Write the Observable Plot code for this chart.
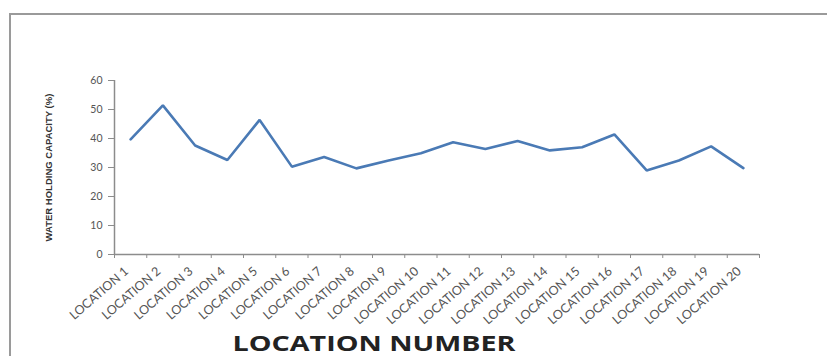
<!DOCTYPE html>
<html>
<head>
<meta charset="utf-8">
<script src="https://cdn.jsdelivr.net/npm/d3@7"></script>
<script src="https://cdn.jsdelivr.net/npm/@observablehq/plot@0.6"></script>
<style>
  html, body { margin: 0; padding: 0; background: #fff; }
  #wrap { position: relative; width: 827px; height: 356px; overflow: hidden; }
  #border { position: absolute; left: 9px; top: 13px; width: 900px; height: 400px; border-left: 2px solid #9a9a9a; border-top: 2px solid #9a9a9a; pointer-events: none; }
  svg { font-family: Lato, "Open Sans", sans-serif; }
</style>
</head>
<body>
<div id="wrap"><div id="border"></div><div id="chart"></div></div>
<script>
const locations = ["LOCATION 1","LOCATION 2","LOCATION 3","LOCATION 4","LOCATION 5","LOCATION 6","LOCATION 7","LOCATION 8","LOCATION 9","LOCATION 10","LOCATION 11","LOCATION 12","LOCATION 13","LOCATION 14","LOCATION 15","LOCATION 16","LOCATION 17","LOCATION 18","LOCATION 19","LOCATION 20"];
const capacity = [39.7, 51.4, 37.6, 32.6, 46.4, 30.3, 33.6, 29.7, 32.4, 34.9, 38.7, 36.4, 39.1, 35.9, 37.0, 41.4, 29.0, 32.4, 37.3, 29.8];
const yTicks = [0, 10, 20, 30, 40, 50, 60];
const yTitle = "WATER HOLDING CAPACITY (%)";
const xTitle = "LOCATION NUMBER";

const data = locations.map((name, i) => ({name, i, value: capacity[i]}));
const axisColor = "#8c8c8c";
const labelColor = "#555";

const chart = Plot.plot({
  width: 827,
  height: 356,
  marginLeft: 114,
  marginRight: 68,
  marginTop: 80,
  marginBottom: 102,
  x: {type: "linear", domain: [0, locations.length], axis: null},
  y: {domain: [0, 60], axis: null},
  marks: [
    Plot.ruleX([0], {stroke: axisColor, strokeWidth: 1.5}),
    Plot.ruleY([0], {stroke: axisColor, strokeWidth: 1.5}),
    Plot.axisY({ticks: yTicks, tickSize: 6, stroke: axisColor, tickPadding: 6, fill: labelColor, fontSize: 10.5, label: null}),
    Plot.axisX({ticks: d3.range(locations.length + 1), tickSize: 4, tickFormat: () => "", stroke: axisColor, label: null}),
    Plot.text(data, {x: d => d.i + 0.5, y: 0, text: "name", rotate: -41, textAnchor: "end", dx: -4, dy: 15, fontSize: 12.5, fill: labelColor}),
    Plot.lineY(data, {x: d => d.i + 0.5, y: "value", stroke: "#4a7ab5", strokeWidth: 2.6, strokeLinejoin: "miter"}),
    Plot.text([yTitle], {frameAnchor: "left", textAnchor: "middle", rotate: -90, dx: -66, fontSize: 9.5, fontWeight: "bold", fill: "#333", fontFamily: "'Liberation Sans Narrow', 'Liberation Sans', sans-serif"}),
    Plot.text([xTitle], {frameAnchor: "bottom", dx: -63, dy: 96, fontSize: 22, fontWeight: "bold", fill: "#222", fontFamily: "'Open Sans', Lato, sans-serif", className: "xtitle"})
  ]
});
d3.select(chart).selectAll(".xtitle text").attr("textLength", 283).attr("lengthAdjust", "spacingAndGlyphs");
document.getElementById("chart").appendChild(chart);
</script>
</body>
</html>
